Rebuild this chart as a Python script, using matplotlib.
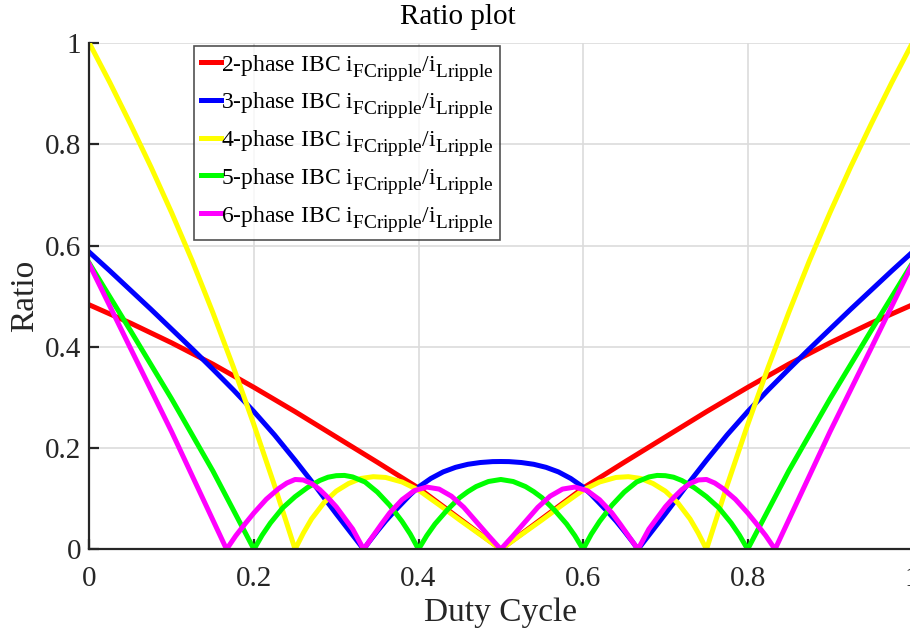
import matplotlib
matplotlib.use("Agg")
import matplotlib.pyplot as plt
import matplotlib._mathtext as _mt

plt.rcParams['font.family'] = ['Liberation Serif', 'DejaVu Serif']
plt.rcParams['mathtext.fontset'] = 'custom'
plt.rcParams['mathtext.rm'] = 'Liberation Serif'
# larger, lower subscripts (MATLAB-like)
_mt.SHRINK_FACTOR = 0.82
_mt.FontConstantsBase.sub1 = 0.55
_mt.FontConstantsBase.sub2 = 0.65

# ---- data ----
x_2ph = [0, 0.05, 0.1, 0.15, 0.2, 0.25, 0.3, 0.35, 0.4, 0.45, 0.5,
         0.55, 0.6, 0.65, 0.7, 0.75, 0.8, 0.85, 0.9, 0.95, 1.0]
y_2ph = [0.483, 0.447, 0.408, 0.366, 0.320, 0.272, 0.222, 0.172, 0.121, 0.0605, 0.0,
         0.0605, 0.121, 0.172, 0.222, 0.272, 0.320, 0.366, 0.408, 0.447, 0.483]

x_3ph = [0, 0.025, 0.05, 0.075, 0.1, 0.125, 0.15, 0.175, 0.2, 0.225, 0.25, 0.275, 0.3, 0.3333,
         0.34, 0.35, 0.36, 0.37, 0.38, 0.39, 0.4, 0.415, 0.43, 0.445, 0.46, 0.475, 0.49, 0.5,
         0.51, 0.525, 0.54, 0.555, 0.57, 0.585, 0.6, 0.61, 0.62, 0.63, 0.64, 0.65, 0.66, 0.6667,
         0.7, 0.725, 0.75, 0.775, 0.8, 0.825, 0.85, 0.875, 0.9, 0.925, 0.95, 0.975, 1.0]
y_3ph = [0.587, 0.550, 0.512, 0.474, 0.435, 0.396, 0.356, 0.315, 0.272, 0.226, 0.176, 0.124, 0.07, 0.0,
         0.015, 0.036, 0.056, 0.074, 0.091, 0.108, 0.123, 0.140, 0.153, 0.162, 0.168, 0.1715, 0.1733, 0.1735,
         0.1733, 0.1715, 0.168, 0.162, 0.153, 0.140, 0.123, 0.108, 0.091, 0.074, 0.056, 0.036, 0.015, 0.0,
         0.07, 0.124, 0.176, 0.226, 0.272, 0.315, 0.356, 0.396, 0.435, 0.474, 0.512, 0.550, 0.587]

x_4ph = [0, 0.025, 0.05, 0.075, 0.1, 0.125, 0.15, 0.175, 0.2, 0.225, 0.25,
         0.26, 0.27, 0.285, 0.3, 0.315, 0.33, 0.345, 0.36, 0.38, 0.4, 0.425, 0.45, 0.475, 0.5,
         0.525, 0.55, 0.575, 0.6, 0.62, 0.64, 0.655, 0.67, 0.685, 0.7, 0.715, 0.73, 0.74, 0.75,
         0.775, 0.8, 0.825, 0.85, 0.875, 0.9, 0.925, 0.95, 0.975, 1.0]
y_4ph = [1.0, 0.922, 0.84, 0.755, 0.665, 0.57, 0.468, 0.36, 0.246, 0.126, 0.0,
         0.032, 0.06, 0.092, 0.115, 0.13, 0.14, 0.1435, 0.142, 0.133, 0.117, 0.088, 0.058, 0.029, 0.0,
         0.029, 0.058, 0.088, 0.117, 0.133, 0.142, 0.1435, 0.14, 0.13, 0.115, 0.092, 0.06, 0.032, 0.0,
         0.126, 0.246, 0.36, 0.468, 0.57, 0.665, 0.755, 0.84, 0.922, 1.0]

x_5ph = [0, 0.05, 0.1, 0.15, 0.2,
         0.21, 0.22, 0.235, 0.25, 0.265, 0.28, 0.29, 0.3, 0.31, 0.32, 0.335, 0.35, 0.365, 0.38, 0.39, 0.4,
         0.41, 0.42, 0.435, 0.45, 0.46, 0.47, 0.485, 0.5, 0.515, 0.53, 0.54, 0.55, 0.565, 0.58, 0.59, 0.6,
         0.61, 0.62, 0.635, 0.65, 0.665, 0.68, 0.69, 0.7, 0.71, 0.72, 0.735, 0.75, 0.765, 0.78, 0.79, 0.8,
         0.85, 0.9, 0.95, 1.0]
y_5ph = [0.565, 0.432, 0.297, 0.155, 0.0,
         0.028, 0.052, 0.082, 0.104, 0.122, 0.136, 0.1425, 0.1455, 0.146, 0.143, 0.133, 0.113, 0.087, 0.055, 0.03, 0.0,
         0.027, 0.05, 0.078, 0.102, 0.114, 0.124, 0.134, 0.138, 0.134, 0.124, 0.114, 0.102, 0.078, 0.05, 0.027, 0.0,
         0.03, 0.055, 0.087, 0.113, 0.133, 0.143, 0.146, 0.1455, 0.1425, 0.136, 0.122, 0.104, 0.082, 0.052, 0.028, 0.0,
         0.155, 0.297, 0.432, 0.565]

x_6ph = [0, 0.05, 0.1, 0.1667,
         0.178, 0.19, 0.2, 0.215, 0.23, 0.24, 0.25, 0.26, 0.27, 0.28, 0.29, 0.3, 0.31, 0.32, 0.3333,
         0.345, 0.355, 0.365, 0.38, 0.395, 0.41, 0.425, 0.44, 0.455, 0.47, 0.485, 0.5,
         0.515, 0.53, 0.545, 0.56, 0.575, 0.59, 0.605, 0.62, 0.635, 0.645, 0.655, 0.6667,
         0.68, 0.69, 0.7, 0.71, 0.72, 0.73, 0.74, 0.75, 0.76, 0.77, 0.785, 0.8, 0.81, 0.822, 0.8333,
         0.9, 0.95, 1.0]
y_6ph = [0.563, 0.397, 0.232, 0.0,
         0.027, 0.052, 0.072, 0.099, 0.12, 0.131, 0.138, 0.137, 0.13, 0.118, 0.102, 0.084, 0.062, 0.04, 0.0,
         0.027, 0.05, 0.072, 0.098, 0.116, 0.123, 0.119, 0.105, 0.083, 0.055, 0.027, 0.0,
         0.027, 0.055, 0.083, 0.105, 0.119, 0.123, 0.116, 0.098, 0.072, 0.05, 0.027, 0.0,
         0.04, 0.062, 0.084, 0.102, 0.118, 0.13, 0.137, 0.138, 0.131, 0.12, 0.099, 0.072, 0.052, 0.027, 0.0,
         0.232, 0.397, 0.563]

labels = [r"2-phase IBC $\mathregular{i_{FCripple}/i_{Lripple}}$",
          r"3-phase IBC $\mathregular{i_{FCripple}/i_{Lripple}}$",
          r"4-phase IBC $\mathregular{i_{FCripple}/i_{Lripple}}$",
          r"5-phase IBC $\mathregular{i_{FCripple}/i_{Lripple}}$",
          r"6-phase IBC $\mathregular{i_{FCripple}/i_{Lripple}}$"]
colors = ['#ff0000', '#0000ff', '#ffff00', '#00ff00', '#ff00ff']

xticks = [0, 0.2, 0.4, 0.6, 0.8, 1]
xticklabels = ['0', '0.2', '0.4', '0.6', '0.8', '1']
yticks = [0, 0.2, 0.4, 0.6, 0.8, 1]
yticklabels = ['0', '0.2', '0.4', '0.6', '0.8', '1']

# ---- figure ----
fig = plt.figure(figsize=(9.10, 6.32), dpi=100)
ax = fig.add_axes([89.4 / 910, 82.7 / 632, 822.8 / 910, 506 / 632])

series = [(x_2ph, y_2ph), (x_3ph, y_3ph), (x_4ph, y_4ph), (x_5ph, y_5ph), (x_6ph, y_6ph)]
for (xs, ys), c, lab in zip(series, colors, labels):
    ax.plot(xs, ys, color=c, lw=3.6, label=lab, solid_joinstyle='round', zorder=3)

ax.set_xlim(0, 1)
ax.set_ylim(0, 1)
ax.set_xticks(xticks)
ax.set_xticklabels(xticklabels)
ax.set_yticks(yticks)
ax.set_yticklabels(yticklabels)

ax.grid(True, color='#dcdcdc', lw=1.2)
ax.set_axisbelow(True)
for s in ['top', 'right']:
    ax.spines[s].set_visible(False)
for s in ['left', 'bottom']:
    ax.spines[s].set_color('#262626')
    ax.spines[s].set_linewidth(1.6)
    ax.spines[s].set_zorder(4)

ax.tick_params(direction='in', length=7, width=1.6, colors='#262626', labelsize=21)
ax.tick_params(axis='x', pad=12)
ax.tick_params(axis='y', pad=6)

fig.text(458 / 910, 1 - 17 / 632, 'Ratio plot', fontsize=21, color='#000000',
         ha='center', va='center')
ax.set_xlabel('Duty Cycle', fontsize=24, color='#262626', labelpad=4)
ax.set_ylabel('Ratio', fontsize=24, color='#262626', labelpad=3)

leg = ax.legend(loc='upper left', bbox_to_anchor=((194 - 89.4) / 822.8, (549.3 - 46) / 506),
                fontsize=17, frameon=True, fancybox=False, edgecolor='#262626',
                handlelength=0.85, handletextpad=0.0, borderpad=0.28,
                labelspacing=0.33, borderaxespad=0.0)
leg.get_frame().set_linewidth(1.2)
leg.set_zorder(5)

fig.savefig('out.png', dpi=100)
